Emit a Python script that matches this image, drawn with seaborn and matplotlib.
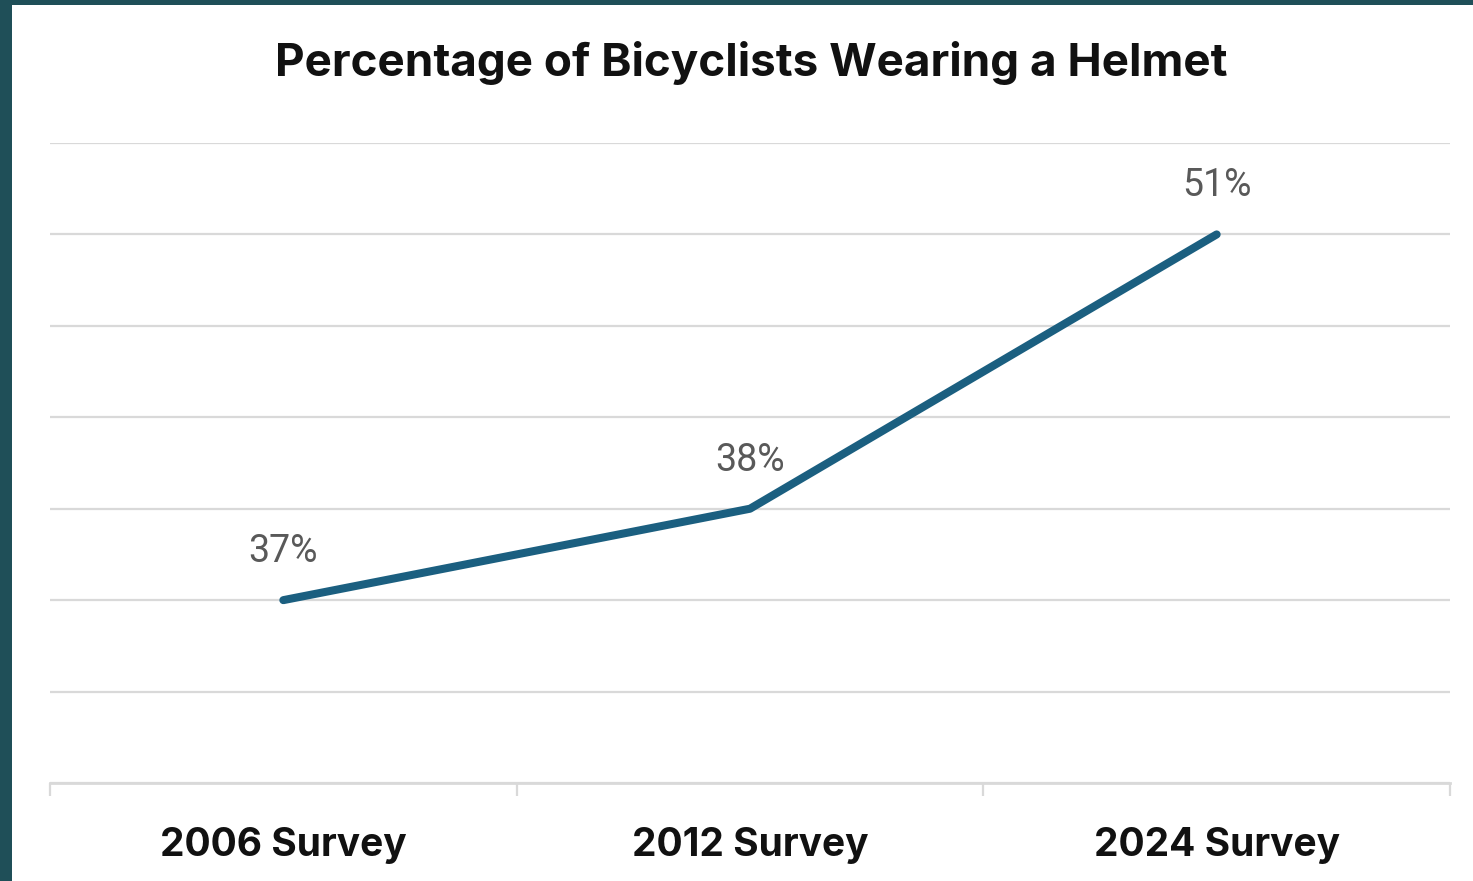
import numpy as np
import pandas as pd
import seaborn as sns
import matplotlib.pyplot as plt
from matplotlib.patches import Rectangle
from matplotlib.ticker import FixedLocator

# data
surveys = ["2006 Survey", "2012 Survey", "2024 Survey"]
helmet_pct = [37, 38, 51]
# height of each point on the chart, in gridline steps (the original chart
# does not place the points on a linear percent scale)
line_level = [2, 3, 6]

df = pd.DataFrame({"survey": surveys, "pct": helmet_pct, "level": line_level})

sns.set_theme(style="white")
plt.rcParams["font.family"] = ["Inter", "DejaVu Sans"]

fig = plt.figure(figsize=(14.73, 8.81), dpi=100)
fig.patch.set_facecolor("#1f4f58")
# white card with teal strip on the left and top
fig.add_artist(Rectangle((12 / 1473, 0), 1 - 12 / 1473, 1 - 5 / 881,
                         transform=fig.transFigure, facecolor="white",
                         edgecolor="none", zorder=0))

ax = fig.add_axes([50 / 1473, 1 - 783 / 881, 1400 / 1473, 640 / 881])
ax.set_facecolor("white")

sns.lineplot(data=df, x="survey", y="level", ax=ax, color="#1b5f80",
             linewidth=5.8, solid_capstyle="round", sort=False, zorder=3)

ax.set_xlim(-0.5, 2.5)
ax.set_ylim(0, 7)
ax.set_yticks(np.arange(0, 8))
ax.yaxis.grid(True, color="#d9d9d9", linewidth=1.6)
ax.set_yticklabels([])
ax.tick_params(axis="y", length=0)

for s in ["top", "right", "left"]:
    ax.spines[s].set_visible(False)
ax.spines["bottom"].set_color("#d9d9d9")
ax.spines["bottom"].set_linewidth(2)

ax.set_xticks(range(len(surveys)))
ax.set_xticklabels(surveys, fontsize=28, fontweight="bold", color="#111111")
ax.tick_params(axis="x", which="major", length=0, pad=32)
ax.xaxis.set_minor_locator(FixedLocator([-0.5, 0.5, 1.5, 2.5]))
ax.tick_params(axis="x", which="minor", length=9, width=1.6, color="#d9d9d9",
               direction="out", bottom=True)
ax.set_xlabel("")
ax.set_ylabel("")

for i, (p, lv) in enumerate(zip(helmet_pct, line_level)):
    ax.annotate(f"{p}%", (i, lv), xytext=(0, 35), textcoords="offset points",
                ha="center", va="center", fontsize=27, color="#595959",
                family=["Roboto", "DejaVu Sans"])

fig.text(751 / 1473, 1 - 63 / 881, "Percentage of Bicyclists Wearing a Helmet",
         ha="center", va="center", fontsize=33, fontweight="bold",
         color="#111111")

fig.savefig("out.png", dpi=100)
